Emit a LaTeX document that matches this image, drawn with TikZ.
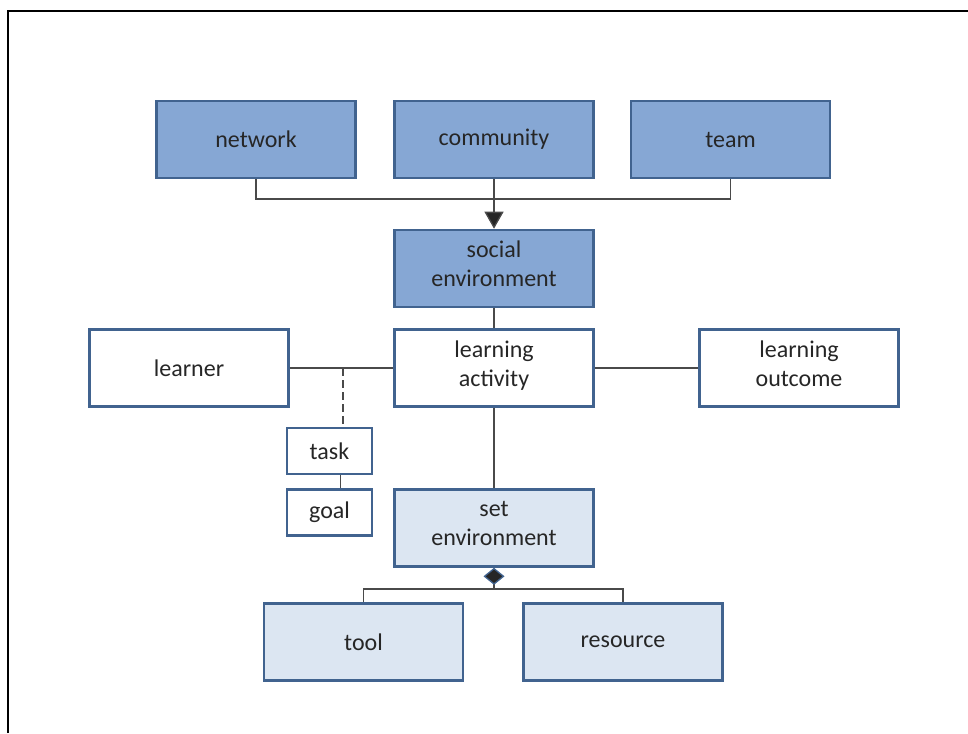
\documentclass[tikz,border=0pt]{standalone}
\usepackage{fontspec}
\setmainfont{Carlito}
\usetikzlibrary{arrows.meta,positioning}
\definecolor{boxline}{HTML}{41638F}
\definecolor{darkfill}{HTML}{86A7D4}
\definecolor{lightfill}{HTML}{DCE6F2}
\definecolor{conline}{HTML}{4A4A4A}
\definecolor{txt}{HTML}{262626}

\begin{document}
\begin{tikzpicture}
[x=1pt,y=-1pt,
box/.style={rectangle, draw=boxline, line width=2.6pt, minimum width=199pt, minimum height=77pt, align=center, text=txt, font=\fontsize{24}{29}\selectfont},
darkbox/.style={box, fill=darkfill},
lightbox/.style={box, fill=lightfill},
smallbox/.style={box, minimum width=85pt, minimum height=46pt},
con/.style={draw=conline, line width=1.3pt},
]
\useasboundingbox (0,0) rectangle (968,733);
\draw[line width=2pt] (8,733) |- (968,11);
%top row
\node[darkbox](network) at (256,139.5) {network};
\node[darkbox](community) at (494,139.5) {community};
\node[darkbox](team) at (730.5,139.5) {team};
\node[darkbox](social) at (494,268.5) {social\\environment\rule[-9pt]{0pt}{1pt}};
%middle row
\node[box](learner) at (189,368) {learner};
\node[box](activity) at (494,368) {learning\\activity\rule[-9pt]{0pt}{1pt}};
\node[box](outcome) at (799,368) {learning\\outcome\rule[-9pt]{0pt}{1pt}};
\node[smallbox](task) at (329.5,451) {task};
\node[smallbox](goal) at (329.5,512.5) {goal};
%bottom
\node[lightbox](setenv) at (494,528) {set\\environment\rule[-9pt]{0pt}{1pt}};
\node[lightbox](tool) at (363.5,642) {tool};
\node[lightbox](resource) at (623,642) {resource};
%bus points
\coordinate (topbus) at (494,199);
\coordinate (taskbus) at (343,368);
\coordinate (botbus) at (494,589);
%draw line
\draw[con] (network.south) |- (team.south |- topbus) -- (team.south);
\draw[con, -{Triangle[length=17pt,width=19pt,fill=black!85]}] (community.south) -- (social.north);
\draw[con] (social.south) -- (activity.north);
\draw[con] (learner.east) -- (activity.west);
\draw[con] (outcome.west) -- (activity.east);
\draw[con, line width=2.4pt, dash pattern=on 8pt off 4pt] (taskbus) -- (taskbus |- task.north);
\draw[con] ([xshift=11pt]task.south) -- ([xshift=11pt]goal.north);
\draw[con] (activity.south) -- (setenv.north);
\draw[con, {Diamond[length=17pt,width=21pt,fill=black!85,color=boxline]}-] (setenv.south) -- (botbus);
\draw[con] (tool.north) |- (resource.north |- botbus) -- (resource.north);
\end{tikzpicture}
\end{document}
